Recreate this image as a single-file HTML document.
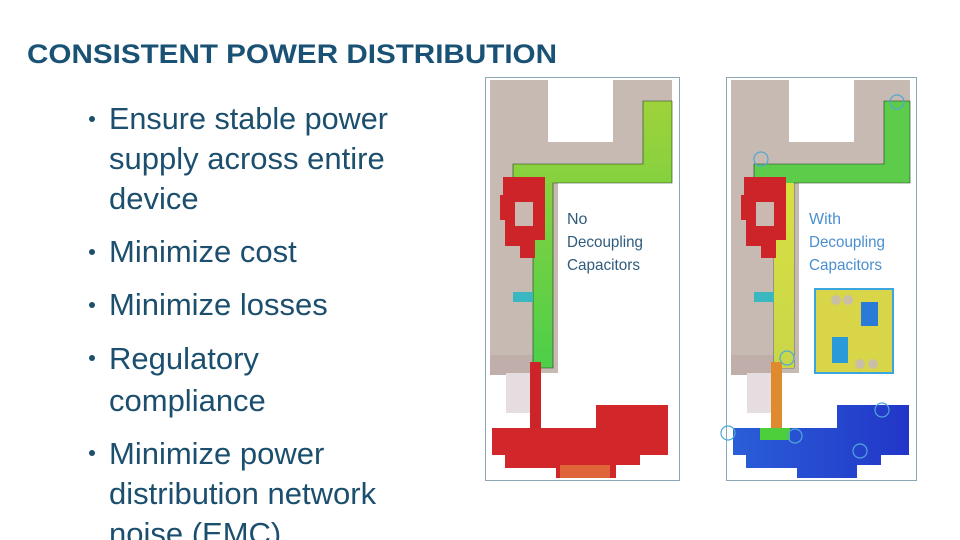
<!DOCTYPE html>
<html><head><meta charset="utf-8"><style>
html,body{margin:0;padding:0;background:#fff;}
svg{display:block;}
</style></head><body>
<svg width="960" height="540" viewBox="0 0 960 540" xmlns="http://www.w3.org/2000/svg">
<defs>
<linearGradient id="gL" x1="0" y1="0" x2="0" y2="1"><stop offset="0" stop-color="#9fd23a"/><stop offset="1" stop-color="#4ccf4a"/></linearGradient>
<linearGradient id="gR" x1="0" y1="0" x2="0" y2="1"><stop offset="0" stop-color="#d8e040"/><stop offset="1" stop-color="#c9d64a"/></linearGradient>
<linearGradient id="blue" x1="0" y1="0" x2="1" y2="0"><stop offset="0" stop-color="#2a5ed8"/><stop offset="1" stop-color="#2236c8"/></linearGradient>
</defs>
<text x="27" y="63" font-family="Liberation Sans, sans-serif" font-weight="bold" font-size="27" fill="#1a5275" textLength="530" lengthAdjust="spacingAndGlyphs">CONSISTENT POWER DISTRIBUTION</text>
<g font-family="Liberation Sans, sans-serif" font-size="31" fill="#1c4f6e">
<circle cx="92" cy="119" r="3"/><text x="109" y="129" textLength="279" lengthAdjust="spacingAndGlyphs">Ensure stable power</text>
<text x="109" y="169">supply across entire</text><text x="109" y="209">device</text>
<circle cx="92" cy="252" r="3"/><text x="109" y="262">Minimize cost</text>
<circle cx="92" cy="305" r="3"/><text x="109" y="315">Minimize losses</text>
<circle cx="92" cy="358" r="3"/><text x="109" y="369">Regulatory</text><text x="109" y="411">compliance</text>
<circle cx="92" cy="453" r="3"/><text x="109" y="464">Minimize power</text>
<text x="109" y="504">distribution network</text><text x="109" y="544">noise (EMC)</text>
</g>
<!-- LEFT PANEL -->
<g>
<rect x="485.5" y="77.5" width="194" height="403" fill="#fff" stroke="#8ea7b5"/>
<path d="M490 80H548V142H613V80H672V183H558V373H490Z" fill="#c7bab2"/>
<rect x="490" y="355" width="50" height="20" fill="#c0aeaa"/>
<rect x="506" y="373" width="26" height="40" fill="#e6dde0"/>
<path d="M643 101H672V183H553V368H533V183H513V164H643Z" fill="url(#gL)" stroke="#1b3a1b" stroke-width="0.6"/>
<path d="M503 177H545V240H535V258H520V246H505V220H500V195H503Z" fill="#cc2428"/>
<rect x="515" y="202" width="18" height="24" fill="#c9b9b0"/>
<rect x="513" y="292" width="20" height="10" fill="#3ab7c0"/>
<rect x="530" y="362" width="11" height="68" fill="#cc2428"/>
<path d="M596 405H668V455H640V465H616V478H556V468H505V455H492V428H596Z" fill="#d1262a"/>
<rect x="560" y="465" width="50" height="13" fill="#e0643a"/>
<g font-family="Liberation Sans, sans-serif" font-size="16" fill="#2f5b7c">
<text x="567" y="224">No</text><text x="567" y="247" textLength="76" lengthAdjust="spacingAndGlyphs">Decoupling</text><text x="567" y="270" textLength="73" lengthAdjust="spacingAndGlyphs">Capacitors</text></g>
</g>
<!-- RIGHT PANEL -->
<g>
<rect x="726.5" y="77.5" width="190" height="403" fill="#fff" stroke="#8ea7b5"/>
<path d="M731 80H789V142H854V80H910V183H799V373H731Z" fill="#c7bab2"/>
<rect x="731" y="355" width="50" height="20" fill="#c0aeaa"/>
<rect x="747" y="373" width="26" height="40" fill="#e6dde0"/>
<path d="M884 101H910V183H794V368H774V183H754V164H884Z" fill="#5ccc4a" stroke="#1b3a1b" stroke-width="0.6"/>
<rect x="774" y="183" width="20" height="185" fill="url(#gR)"/>
<path d="M744 177H786V240H776V258H761V246H746V220H741V195H744Z" fill="#cc2428"/>
<rect x="756" y="202" width="18" height="24" fill="#c9b9b0"/>
<rect x="754" y="292" width="20" height="10" fill="#3ab7c0"/>
<rect x="771" y="362" width="11" height="68" fill="#e08a30"/>
<path d="M837 405H909V455H881V465H857V478H797V468H746V455H733V428H837Z" fill="url(#blue)"/>
<rect x="760" y="428" width="30" height="12" fill="#4ccf3a"/>
<g fill="none" stroke="#4fa8d6" stroke-width="1.2">
<circle cx="761" cy="159" r="7"/><circle cx="897" cy="102" r="7"/><circle cx="787" cy="358" r="7"/>
<circle cx="728" cy="433" r="7"/><circle cx="795" cy="436" r="7"/><circle cx="882" cy="410" r="7"/><circle cx="860" cy="451" r="7"/></g>
<rect x="815" y="289" width="78" height="84" fill="#d8d648" stroke="#3aa6e0" stroke-width="2"/>
<circle cx="836" cy="300" r="5" fill="#c8bfa6"/><circle cx="848" cy="300" r="5" fill="#c8bfa6"/>
<circle cx="860" cy="364" r="5" fill="#c8bfa6"/><circle cx="873" cy="364" r="5" fill="#c8bfa6"/>
<rect x="861" y="302" width="17" height="24" fill="#2a7bd8"/><rect x="832" y="337" width="16" height="26" fill="#2a9bd8"/>
<g font-family="Liberation Sans, sans-serif" font-size="16" fill="#4a8fd0">
<text x="809" y="224">With</text><text x="809" y="247" textLength="76" lengthAdjust="spacingAndGlyphs">Decoupling</text><text x="809" y="270" textLength="73" lengthAdjust="spacingAndGlyphs">Capacitors</text></g>
</g>
</svg>
</body></html>
